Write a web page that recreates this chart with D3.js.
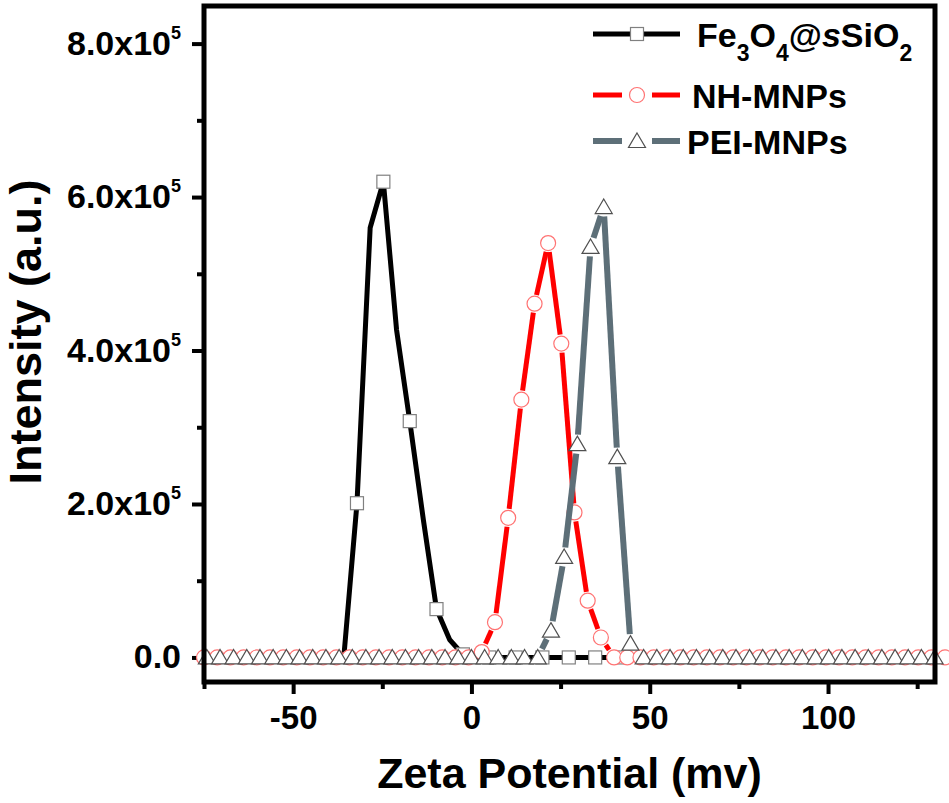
<!DOCTYPE html>
<html>
<head>
<meta charset="utf-8">
<script src="https://cdn.jsdelivr.net/npm/d3@7"></script>
<style>
  body { margin: 0; background: #fff; }
  svg text { font-family: "Liberation Sans", Arial, sans-serif; font-weight: bold; fill: #000; }
</style>
</head>
<body>
<div id="chart"></div>
<script>
// ---- data ----
var feX = [-35.8, -32.1, -28.4, -24.7, -21.0, -17.3, -13.5, -9.8, -6.1, -2.4, 1.3, 5.0, 8.7, 12.4, 16.1, 19.9, 23.6, 27.3, 31.0, 34.7, 38.4, 42.1];
var feY = [0, 201000, 560000, 620000, 427000, 308000, 180000, 63000, 23000, 4000, 0, 0, 0, 0, 0, 0, 0, 0, 0, 0, 0, 0];

var nhX = [-75.0, -71.3, -67.6, -63.9, -60.2, -56.5, -52.8, -49.0, -45.3, -41.6, -37.9, -34.2, -30.5, -26.8, -23.1, -19.4, -15.7, -11.9, -8.2, -4.5, -0.8,
           2.9, 6.6, 10.3, 14.0, 17.7, 21.5, 25.2, 28.9, 32.6, 36.3, 40.0, 43.7, 47.4, 51.1, 54.8, 58.6, 62.3, 66.0, 69.7, 73.4, 77.1,
           80.8, 84.5, 88.2, 91.9, 95.7, 99.4, 103.1, 106.8, 110.5, 114.2, 117.9, 121.6, 125.3, 129.0, 132.8];
var nhY = [0, 0, 0, 0, 0, 0, 0, 0, 0, 0, 0, 0, 0, 0, 0, 0, 0, 0, 0, 0, 0,
           7000, 46000, 182000, 336000, 461000, 540000, 409000, 189000, 74000, 26000, 0, 0, 0, 0, 0, 0, 0, 0, 0, 0, 0,
           0, 0, 0, 0, 0, 0, 0, 0, 0, 0, 0, 0, 0, 0, 0];

var peiX = [-74.2, -70.5, -66.7, -63.0, -59.3, -55.6, -51.9, -48.2, -44.5, -40.8, -37.1, -33.4, -29.6, -25.9, -22.2, -18.5, -14.8, -11.1, -7.4, -3.7, 0.0,
            3.7, 7.5, 11.2, 14.9, 18.6, 22.3, 26.0, 29.7, 33.4, 37.1, 40.9, 44.6, 48.3, 52.0, 55.7, 59.4, 63.1, 66.8, 70.5, 74.2,
            78.0, 81.7, 85.4, 89.1, 92.8, 96.5, 100.2, 103.9, 107.6, 111.3, 115.1, 118.8, 122.5, 126.2, 129.9];
var peiY = [0, 0, 0, 0, 0, 0, 0, 0, 0, 0, 0, 0, 0, 0, 0, 0, 0, 0, 0, 0, 0,
            0, 0, 0, 0, 0, 35000, 131000, 278000, 535000, 587000, 261000, 18000, 0, 0, 0, 0, 0, 0, 0, 0,
            0, 0, 0, 0, 0, 0, 0, 0, 0, 0, 0, 0, 0, 0, 0];

var xMajor = [-50, 0, 50, 100];
var xMinor = [-75, -25, 25, 75, 125];
var yMajor = [0, 200000, 400000, 600000, 800000];
var yMinor = [100000, 300000, 500000, 700000];
var yMantissa = ["0.0", "2.0", "4.0", "6.0", "8.0"];

var seriesNames = ["Fe3O4@sSiO2", "NH-MNPs", "PEI-MNPs"];

// ---- layout ----
var W = 949, H = 803;
var mL = 204, mR = 935, mT = 6, mB = 682;

var svg = d3.select("#chart")
  .append("svg")
    .attr("width", W)
    .attr("height", H);

var x = d3.scaleLinear()
  .domain([-75, 130])
  .range([mL, mR]);

var y = d3.scaleLinear()
  .domain([-32000, 849000])
  .range([mB, mT]);

// X axis ticks
var xAx = svg.append("g")
  .attr("transform", "translate(0," + mB + ")")
  .call(d3.axisBottom(x).tickValues(xMajor).tickSize(12)
    .tickFormat(d3.format("d")));
xAx.select(".domain").remove();
xAx.selectAll("line").attr("stroke-width", 4);
xAx.selectAll("text")
  .style("font-size", "33px")
  .attr("y", 47).attr("dy", 0)
  .text(function(d) { return d < 0 ? "-" + Math.abs(d) : d; });

var xAxMinor = svg.append("g")
  .attr("transform", "translate(0," + mB + ")")
  .call(d3.axisBottom(x).tickValues(xMinor).tickSize(7).tickFormat(""));
xAxMinor.select(".domain").remove();
xAxMinor.selectAll("line").attr("stroke-width", 4);

// Y axis ticks
var yAx = svg.append("g")
  .attr("transform", "translate(" + mL + ",0)")
  .call(d3.axisLeft(y).tickValues(yMajor).tickSize(12).tickFormat(""));
yAx.select(".domain").remove();
yAx.selectAll("line").attr("stroke-width", 4);

var yAxMinor = svg.append("g")
  .attr("transform", "translate(" + mL + ",0)")
  .call(d3.axisLeft(y).tickValues(yMinor).tickSize(7).tickFormat(""));
yAxMinor.select(".domain").remove();
yAxMinor.selectAll("line").attr("stroke-width", 4);

// y tick labels with powers of ten
yMajor.forEach(function(v, i) {
  var t = svg.append("text")
    .attr("x", 181)
    .attr("y", y(v) + 11)
    .attr("text-anchor", "end")
    .style("font-size", "34px");
  if (v === 0) {
    t.text(yMantissa[i]);
  } else {
    t.append("tspan").text(yMantissa[i] + "x10");
    t.append("tspan").attr("dy", -16).style("font-size", "18px").text("5");
  }
});

// axis titles
svg.append("text")
  .attr("x", (mL + mR) / 2)
  .attr("y", 788)
  .attr("text-anchor", "middle")
  .style("font-size", "43px")
  .text("Zeta Potential (mv)");

svg.append("text")
  .attr("transform", "translate(41,332) rotate(-90)")
  .attr("text-anchor", "middle")
  .style("font-size", "45px")
  .text("Intensity (a.u.)");

// ---- series ----
var markerShapes = {
  square: function(g, cx, cy, s) {
    g.append("rect")
      .attr("x", cx - 6.5).attr("y", cy - 6.5)
      .attr("width", 13).attr("height", 13)
      .attr("fill", "#fff").attr("stroke", s.markerStroke).attr("stroke-width", 1.2);
  },
  circle: function(g, cx, cy, s) {
    g.append("circle")
      .attr("cx", cx).attr("cy", cy).attr("r", 7.5)
      .attr("fill", "#fff").attr("stroke", s.markerStroke).attr("stroke-width", 1.2);
  },
  triangle: function(g, cx, cy, s) {
    g.append("path")
      .attr("d", "M" + cx + "," + (cy - 8) + "L" + (cx + 8.5) + "," + (cy + 6.5) +
                 "L" + (cx - 8.5) + "," + (cy + 6.5) + "Z")
      .attr("fill", "#fff").attr("stroke", s.markerStroke).attr("stroke-width", 1.2);
  }
};

var series = [
  {xs: feX, ys: feY, color: "#000", width: 5, gap: 0, marker: "square", markerStroke: "#808080", every: 2, offset: 1},
  {xs: nhX, ys: nhY, color: "#ff0000", width: 5, gap: 9, marker: "circle", markerStroke: "#ff7373", every: 1, offset: 0},
  {xs: peiX, ys: peiY, color: "#5d6f78", width: 6, gap: 9.5, marker: "triangle", markerStroke: "#505050", every: 1, offset: 0}
];

// line broken around every data point, as Origin draws it
function gapped(pts, gap) {
  var segs = [];
  for (var i = 0; i < pts.length - 1; i++) {
    var a = pts[i], b = pts[i + 1];
    var dx = b[0] - a[0], dy = b[1] - a[1];
    var L = Math.sqrt(dx * dx + dy * dy);
    if (L <= 2 * gap + 0.5) continue;
    var ux = dx / L, uy = dy / L;
    segs.push([[a[0] + ux * gap, a[1] + uy * gap], [b[0] - ux * gap, b[1] - uy * gap]]);
  }
  return segs;
}

series.forEach(function(s) {
  var g = svg.append("g");
  var pts = s.xs.map(function(v, i) { return [x(v), y(s.ys[i])]; });
  if (s.gap === 0) {
    g.append("path")
      .attr("d", d3.line()(pts))
      .attr("fill", "none")
      .attr("stroke", s.color)
      .attr("stroke-width", s.width)
      .attr("stroke-linejoin", "round");
  } else {
    g.selectAll("line.seg")
      .data(gapped(pts, s.gap))
      .enter()
      .append("line")
        .attr("x1", function(d) { return d[0][0]; })
        .attr("y1", function(d) { return d[0][1]; })
        .attr("x2", function(d) { return d[1][0]; })
        .attr("y2", function(d) { return d[1][1]; })
        .attr("stroke", s.color)
        .attr("stroke-width", s.width);
  }
  pts.forEach(function(p, i) {
    if ((i - s.offset) % s.every !== 0) return;
    markerShapes[s.marker](g, p[0], p[1], s);
  });
});

// frame
svg.append("rect")
  .attr("x", mL).attr("y", mT)
  .attr("width", mR - mL).attr("height", mB - mT)
  .attr("fill", "none")
  .attr("stroke", "#000")
  .attr("stroke-width", 5);

// ---- legend ----
var legendRows = [{y: 34, tx: 697}, {y: 95, tx: 692}, {y: 141, tx: 687}];
series.forEach(function(s, i) {
  var row = legendRows[i];
  var g = svg.append("g");
  if (s.gap === 0) {
    g.append("line").attr("x1", 593).attr("x2", 680)
      .attr("y1", row.y).attr("y2", row.y)
      .attr("stroke", s.color).attr("stroke-width", s.width);
  } else {
    [[593, 622], [652, 680]].forEach(function(r) {
      g.append("line").attr("x1", r[0]).attr("x2", r[1])
        .attr("y1", row.y).attr("y2", row.y)
        .attr("stroke", s.color).attr("stroke-width", s.width);
    });
  }
  markerShapes[s.marker](g, 637, row.y, s);

  var t = g.append("text")
    .attr("x", row.tx)
    .attr("y", row.y + 13)
    .style("font-size", "34px");
  if (i === 0) {
    t.append("tspan").text("Fe");
    t.append("tspan").attr("dy", 14).style("font-size", "23px").text("3");
    t.append("tspan").attr("dy", -14).text("O");
    t.append("tspan").attr("dy", 14).style("font-size", "23px").text("4");
    t.append("tspan").attr("dy", -14).text("@");
    t.append("tspan").style("font-style", "italic").text("s");
    t.append("tspan").text("SiO");
    t.append("tspan").attr("dy", 14).style("font-size", "23px").text("2");
  } else {
    t.text(seriesNames[i]);
  }
});
</script>
</body>
</html>
